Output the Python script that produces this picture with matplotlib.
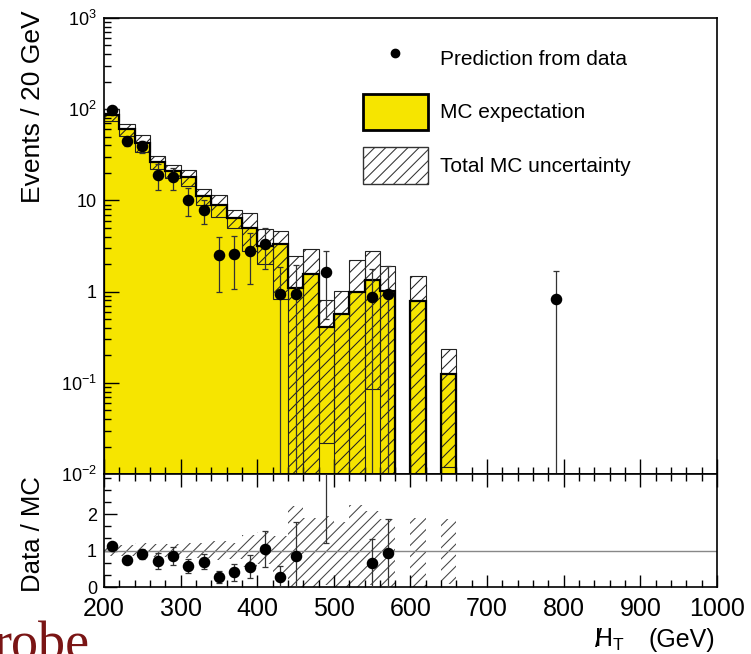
import numpy as np
import matplotlib
matplotlib.use("Agg")
import matplotlib.pyplot as plt
from matplotlib.patches import Patch
from matplotlib.lines import Line2D
from matplotlib.ticker import MultipleLocator, LogLocator, NullFormatter

plt.rcParams['font.family'] = ['Liberation Sans', 'DejaVu Sans']
plt.rcParams['mathtext.fontset'] = 'custom'
plt.rcParams['mathtext.rm'] = 'Liberation Sans'
plt.rcParams['mathtext.it'] = 'Liberation Sans:italic'
plt.rcParams['mathtext.bf'] = 'Liberation Sans:bold'
plt.rcParams['hatch.linewidth'] = 0.75

# 20 GeV bins starting at 200 GeV (MC filled up to 660 GeV)
bin_lo_edge = 200
bin_width = 20
mc = [87, 60, 43, 26.5, 21, 17.9, 11.2, 9.0, 6.4, 5.0, 3.2, 3.3, 1.1, 1.55,
      0.41, 0.57, 0.98, 1.35, 1.02, 0, 0.79, 0, 0.126]
band_hi = [100, 69, 52, 31, 24.5, 21.5, 13.5, 11.4, 7.8, 7.2, 4.8, 4.6, 2.45, 2.95,
           0.8, 1.02, 2.2, 2.8, 1.9, 0, 1.49, 0, 0.236]
band_lo = [74, 51, 34, 22, 17.5, 14.3, 8.9, 6.6, 5.0, 2.8, 2.0, 0.82, 0, 0,
           0.022, 0, 0, 0.085, 0, 0, 0, 0, 0.012]

# prediction from data
data_x = [210, 230, 250, 270, 290, 310, 330, 350, 370, 390, 410, 430, 450, 490, 550, 570, 790]
data_y = [97, 44.5, 39, 19, 17.9, 10.2, 7.8, 2.5, 2.57, 2.8, 3.35, 0.93, 0.95, 1.65, 0.88, 0.95, 0.84]
data_err = [9, 5.5, 6, 6, 5, 3.5, 2.3, 1.5, 1.5, 1.6, 1.6, 0.93, 1.0, 1.15, 0.9, 0.95, 0.85]

yellow = '#f6e500'
floor = 1e-4

mc = np.array(mc, dtype=float)
band_hi = np.array(band_hi, dtype=float)
band_lo = np.array(band_lo, dtype=float)
data_x = np.array(data_x, dtype=float)
data_y = np.array(data_y, dtype=float)
data_err = np.array(data_err, dtype=float)

edges = bin_lo_edge + bin_width * np.arange(len(mc) + 1)
centers = 0.5 * (edges[:-1] + edges[1:])
has_mc = mc > 0

fig = plt.figure(figsize=(7.51, 6.54), dpi=100)
ax = fig.add_axes([0.1385, 0.2752, 0.8162, 0.6973])
ax2 = fig.add_axes([0.1385, 0.1024, 0.8162, 0.1728], sharex=ax)

# main panel
ax.set_yscale('log')
ax.stairs(np.where(has_mc, mc, floor), edges, baseline=floor, fill=True, color=yellow, lw=0, zorder=1)
lo_plot = np.maximum(band_lo, floor)
ax.bar(centers[has_mc], (band_hi - lo_plot)[has_mc], bottom=lo_plot[has_mc], width=bin_width,
       fill=False, hatch='///', edgecolor='#222222', lw=0.8, zorder=2)
ax.stairs(np.where(has_mc, mc, floor), edges, baseline=floor, color='black', lw=1.6, zorder=3)

err_lo = np.minimum(data_err, data_y * 0.9999)
ax.errorbar(data_x, data_y, yerr=[err_lo, data_err], fmt='o', color='black', ms=7.3,
            ecolor='#333333', elinewidth=0.9, capsize=2, capthick=0.9, zorder=4)

ax.set_xlim(200, 1000)
ax.set_ylim(1e-2, 1e3)
ax.set_yticks([1e-2, 1e-1, 1, 10, 1e2, 1e3])
ax.set_yticklabels([r'$10^{-2}$', r'$10^{-1}$', '1', '10', r'$10^{2}$', r'$10^{3}$'])
ax.yaxis.set_minor_locator(LogLocator(base=10, subs=np.arange(2, 10)))
ax.yaxis.set_minor_formatter(NullFormatter())
ax.xaxis.set_major_locator(MultipleLocator(100))
ax.xaxis.set_minor_locator(MultipleLocator(20))
ax.tick_params(which='both', direction='in', top=False, right=False, labelbottom=False,
               labelsize=13, pad=5)
ax.tick_params(which='major', length=11, width=1)
ax.tick_params(which='minor', length=5, width=1)
for s in ax.spines.values():
    s.set_linewidth(1.2)

handles = [
    Line2D([], [], marker='o', color='black', ls='none', ms=6),
    Patch(facecolor=yellow, edgecolor='black', lw=2),
    Patch(facecolor='white', edgecolor='#333333', hatch='///', lw=1),
]
ax.legend(handles, ['Prediction from data', 'MC expectation', 'Total MC uncertainty'],
          loc='upper left', bbox_to_anchor=(0.4225, 0.951), frameon=False, fontsize=15,
          handlelength=3.1, handleheight=2.35, labelspacing=0.78, handletextpad=0.6,
          borderpad=0, borderaxespad=0)

# ratio panel
mc_at = np.array([mc[int((x - bin_lo_edge) // bin_width)] if (x - bin_lo_edge) // bin_width < len(mc) else 0
                  for x in data_x])
ok = mc_at > 0
ratio = data_y[ok] / mc_at[ok]
ratio_err = data_err[ok] / mc_at[ok]

r_hi = band_hi[has_mc] / mc[has_mc]
r_lo = band_lo[has_mc] / mc[has_mc]
ax2.bar(centers[has_mc], r_hi - r_lo, bottom=r_lo, width=bin_width, fill=False,
        hatch='///', edgecolor='#444444', lw=0, zorder=1)
ax2.axhline(1, color='#888888', lw=1, zorder=2)
ax2.errorbar(data_x[ok], ratio, yerr=ratio_err, fmt='o', color='black', ms=7.3,
             ecolor='#333333', elinewidth=0.9, capsize=2, capthick=0.9, zorder=3)

ax2.set_ylim(0, 3.1)
ax2.set_yticks([0, 1, 2])
ax2.yaxis.set_minor_locator(MultipleLocator(1 / 3))
ax2.tick_params(axis='y', labelsize=13, pad=5)
ax2.tick_params(axis='x', labelsize=18, pad=7)
ax2.tick_params(which='both', direction='in', top=True, right=False)
ax2.tick_params(which='major', length=9, width=1)
ax2.tick_params(which='minor', length=5, width=1)
for s in ax2.spines.values():
    s.set_linewidth(1.2)

fig.text(33 / 751, 1 - 10 / 654, 'Events / 20 GeV', rotation=90, ha='center', va='top', fontsize=19)
fig.text(33 / 751, 1 - 476 / 654, 'Data / MC', rotation=90, ha='center', va='top', fontsize=18.5)
# missing H_T label: H with a slash through its left stem
xl_y = 1 - 647 / 654
fig.text(715 / 751, xl_y, '(GeV)', ha='right', va='baseline', fontsize=18)
fig.text(594 / 751, xl_y, r'$\mathrm{H}_{\mathrm{T}}$', ha='left', va='baseline', fontsize=18)
fig.text(595 / 751, xl_y, '/', ha='left', va='baseline', fontsize=18)
fig.text(-6 / 751, -6 / 654, 'robe', fontsize=39, family='Liberation Serif', color='#7a1515',
         ha='left', va='baseline')

fig.savefig('out.png', dpi=100)
